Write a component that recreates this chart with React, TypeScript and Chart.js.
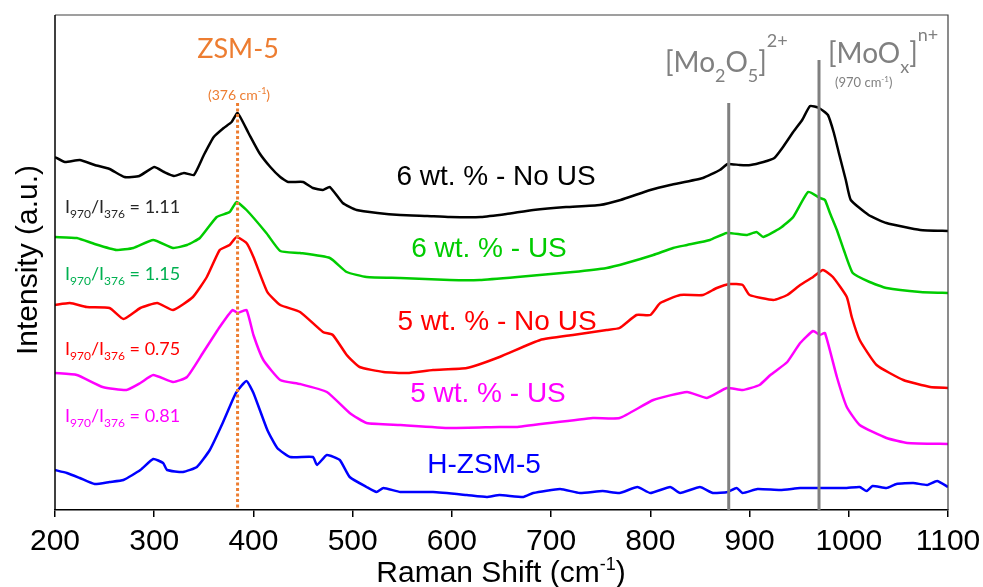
import React, { useEffect, useRef } from "react";
import { Chart, registerables } from "chart.js";

Chart.register(...registerables);

// ---- data (Raman shift in cm-1, intensity in a.u.) ----
const X_MIN = 200;
const X_MAX = 1100;
const Y_MAX = 495;

const noUs6X = [200,210,225,240,255,270,285,300,310,320,330,340,350,360,370,378,384,395,406,417,427,435,450,460,470,477,490,504,525,548,575,598,629,655,682,715,749,770,800,820,853,870,878,890,901,914,925,933,944,953,961,970,979,985,990,997,1002,1020,1038,1072,1100];
const noUs6Y = [353,348,350,345,341,333,334,343,338,334,337,335,355,373,382,388,397,377,357,343,333,328,328,322,320,323,307,300,297,295,294,293,293,296,300,303,305,310,320,325,332,340,346,345,345,348,352,362,378,390,404,402,395,377,357,330,310,295,287,280,279];

const us6X = [200,222,240,262,279,299,319,333,346,363,376,383,393,413,427,447,477,494,514,548,598,628,666,722,756,776,803,823,837,860,877,897,907,914,931,944,959,971,976,981,988,995,1004,1021,1038,1072,1100];
const us6Y = [273,272,266,260,262,270,262,265,272,293,298,308,300,277,259,257,252,238,233,232,230,230,233,238,242,247,255,262,265,270,277,275,278,273,282,293,318,312,310,297,280,260,237,228,222,218,217];

const noUs5X = [200,215,232,255,269,286,303,319,339,353,366,376,383,393,400,414,427,447,470,480,494,507,531,555,581,615,648,689,722,756,769,786,800,810,830,853,867,880,893,900,924,938,951,964,974,984,998,1003,1011,1028,1055,1082,1100];
const noUs5Y = [205,207,203,202,191,202,207,200,213,233,260,265,273,267,253,218,205,198,178,175,155,143,138,137,140,142,153,170,175,180,182,195,195,207,215,215,222,226,225,215,210,215,225,233,240,233,213,193,170,145,130,123,122];

const us5X = [200,222,248,272,286,299,319,333,349,366,379,384,393,400,410,427,447,474,497,514,548,598,648,666,742,769,803,837,857,877,893,910,921,938,951,964,971,976,988,998,1011,1038,1059,1100];
const us5Y = [137,135,123,120,127,135,128,133,157,183,200,197,200,175,150,130,126,118,97,87,85,82,83,83,92,92,110,118,112,122,120,125,135,148,167,179,175,177,133,103,85,72,67,66];

const hzsmX = [200,212,225,240,255,269,286,299,309,313,329,343,356,369,379,383,393,400,414,424,437,460,464,474,487,497,514,524,531,548,581,615,635,648,672,682,709,729,752,769,787,800,820,830,850,863,878,887,893,908,931,951,969,998,1011,1018,1024,1038,1048,1065,1079,1089,1100];
const hzsmY = [40,37,32,26,28,30,40,51,47,40,38,43,60,87,110,118,129,117,80,62,53,53,45,55,50,33,23,18,22,18,18,15,13,15,13,17,21,17,19,17,23,17,23,17,23,17,18,22,17,21,20,22,22,22,23,19,24,22,26,27,25,29,23];

const seriesNames = ["6 wt. % - No US", "6 wt. % - US", "5 wt. % - No US", "5 wt. % - US", "H-ZSM-5"];
const seriesColors = ["#000000", "#00CC00", "#FF0000", "#FF00FF", "#0000FF"];
const ratioValues = ["1.11", "1.15", "0.75", "0.81"];
const ratioColors = ["#262626", "#00B050", "#FF0000", "#FF00FF"];

// reference lines: position (cm-1) and top (intensity)
const markerX = [384, 879, 970];
const markerTop = [407, 407, 450];
const markerColors = ["#ED7D31", "#808080", "#808080"];

const xTicks = [200, 300, 400, 500, 600, 700, 800, 900, 1000, 1100];

const toPts = (xs: number[], ys: number[]) => xs.map((x, i) => ({ x, y: ys[i] }));

type Seg = { t: string; s: number; dy?: number };

function richWidth(ctx: CanvasRenderingContext2D, segs: Seg[], family: string) {
  let w = 0;
  for (const g of segs) {
    ctx.font = `${g.s}px ${family}`;
    w += ctx.measureText(g.t).width;
  }
  return w;
}

function drawRich(ctx: CanvasRenderingContext2D, segs: Seg[], x: number, y: number, family: string, color: string, align: "left" | "center" = "left") {
  let cx = x;
  if (align === "center") cx = x - richWidth(ctx, segs, family) / 2;
  ctx.fillStyle = color;
  ctx.textAlign = "left";
  ctx.textBaseline = "alphabetic";
  for (const g of segs) {
    ctx.font = `${g.s}px ${family}`;
    ctx.fillText(g.t, cx, y + (g.dy || 0));
    cx += ctx.measureText(g.t).width;
  }
}

const CAL = "Lato, 'Open Sans', sans-serif";
const ARI = "'Liberation Sans', Arial, sans-serif";

const decorPlugin = {
  id: "decor",
  afterDatasetsDraw(chart: any) {
    const ctx: CanvasRenderingContext2D = chart.ctx;
    const xs = chart.scales.x;
    const ys = chart.scales.y;
    const area = chart.chartArea;
    ctx.save();
    markerX.forEach((mx, i) => {
      const px = xs.getPixelForValue(mx);
      ctx.beginPath();
      ctx.strokeStyle = markerColors[i];
      ctx.lineWidth = 3;
      ctx.setLineDash(i === 0 ? [3, 2.5] : []);
      ctx.moveTo(px, ys.getPixelForValue(markerTop[i]));
      ctx.lineTo(px, area.bottom);
      ctx.stroke();
    });
    ctx.setLineDash([]);
    ctx.strokeStyle = "#404040";
    ctx.lineWidth = 1.2;
    ctx.beginPath();
    ctx.moveTo(area.left, area.top);
    ctx.lineTo(area.right, area.top);
    ctx.lineTo(area.right, area.bottom);
    ctx.stroke();
    ctx.strokeStyle = "#000";
    ctx.lineWidth = 1.5;
    ctx.beginPath();
    ctx.moveTo(area.left, area.top);
    ctx.lineTo(area.left, area.bottom);
    ctx.stroke();
    ctx.restore();
  },
  afterDraw(chart: any) {
    const ctx: CanvasRenderingContext2D = chart.ctx;
    ctx.save();
    ctx.save();
    ctx.translate(37, 260);
    ctx.rotate(-Math.PI / 2);
    ctx.font = `30px ${ARI}`;
    ctx.fillStyle = "#000";
    ctx.textAlign = "center";
    ctx.textBaseline = "alphabetic";
    ctx.fillText("Intensity (a.u.)", 0, 0);
    ctx.restore();
    drawRich(ctx, [
      { t: "Raman Shift (cm", s: 30 },
      { t: "-1", s: 18, dy: -12 },
      { t: ")", s: 30 },
    ], 501, 582, ARI, "#000", "center");

    drawRich(ctx, [{ t: "ZSM-5", s: 27 }], 238, 58, CAL, "#ED7D31", "center");
    drawRich(ctx, [
      { t: "(376 cm", s: 14 },
      { t: "-1", s: 9, dy: -6 },
      { t: ")", s: 14 },
    ], 239, 100, CAL, "#ED7D31", "center");

    drawRich(ctx, [
      { t: "[Mo", s: 28 },
      { t: "2", s: 18, dy: 10 },
      { t: "O", s: 28 },
      { t: "5", s: 18, dy: 10 },
      { t: "]", s: 28 },
      { t: "2+", s: 18, dy: -25 },
    ], 665, 72, CAL, "#808080");
    drawRich(ctx, [
      { t: "[MoO", s: 28 },
      { t: "x", s: 18, dy: 10 },
      { t: "]", s: 28 },
      { t: "n+", s: 18, dy: -22 },
    ], 828, 63, CAL, "#808080");
    drawRich(ctx, [
      { t: "(970 cm", s: 13 },
      { t: "-1", s: 8, dy: -5 },
      { t: ")", s: 13 },
    ], 835, 87, CAL, "#808080");

    const lblX = [496, 489, 497, 488, 484];
    const lblY = [185, 257, 330, 402, 473];
    seriesNames.forEach((n, i) => {
      drawRich(ctx, [{ t: n, s: 28 }], lblX[i], lblY[i], ARI, seriesColors[i], "center");
    });

    const rY = [213, 280, 355, 422];
    ratioValues.forEach((v, i) => {
      drawRich(ctx, [
        { t: "I", s: 18 },
        { t: "970", s: 12, dy: 5 },
        { t: "/I", s: 18 },
        { t: "376", s: 12, dy: 5 },
        { t: " = " + v, s: 18 },
      ], 65, rY[i], CAL, ratioColors[i]);
    });
    ctx.restore();
  },
};

export default function App() {
  const ref = useRef<HTMLCanvasElement | null>(null);
  useEffect(() => {
    if (!ref.current) return;
    const series = [
      toPts(noUs6X, noUs6Y),
      toPts(us6X, us6Y),
      toPts(noUs5X, noUs5Y),
      toPts(us5X, us5Y),
      toPts(hzsmX, hzsmY),
    ];
    const chart = new Chart(ref.current, {
      type: "line",
      data: {
        datasets: series.map((d, i) => ({
          label: seriesNames[i],
          data: d,
          borderColor: seriesColors[i],
          backgroundColor: seriesColors[i],
          borderWidth: 2.5,
          pointRadius: 0,
          tension: 0.15,
          fill: false,
        })),
      },
      options: {
        responsive: false,
        animation: false,
        devicePixelRatio: 1,
        layout: { padding: { left: 55, right: 35, top: 15, bottom: 0 } },
        plugins: { legend: { display: false }, tooltip: { enabled: false } },
        scales: {
          x: {
            type: "linear",
            min: X_MIN,
            max: X_MAX,
            afterBuildTicks: (s: any) => {
              s.ticks = xTicks.map((v) => ({ value: v }));
            },
            ticks: {
              color: "#000",
              font: { family: "'Liberation Sans', Arial, sans-serif", size: 30 },
              padding: 7,
              maxRotation: 0,
              autoSkip: false,
              callback: (v: any) => String(v),
            },
            grid: { drawOnChartArea: false, drawTicks: true, tickLength: 7, color: "#000", lineWidth: 1.5 },
            border: { display: true, color: "#000", width: 1.5 },
            afterFit: (s: any) => {
              s.height = 77;
              s.paddingLeft = 0;
              s.paddingRight = 0;
            },
          },
          y: { display: false, min: 0, max: Y_MAX },
        },
      },
      plugins: [decorPlugin],
    } as any);
    return () => chart.destroy();
  }, []);
  return (
    <div style={{ position: "fixed", left: 0, top: 0, width: 983, height: 587, background: "#fff" }}>
      <canvas ref={ref} width={983} height={587} style={{ width: 983, height: 587, display: "block" }} />
    </div>
  );
}
